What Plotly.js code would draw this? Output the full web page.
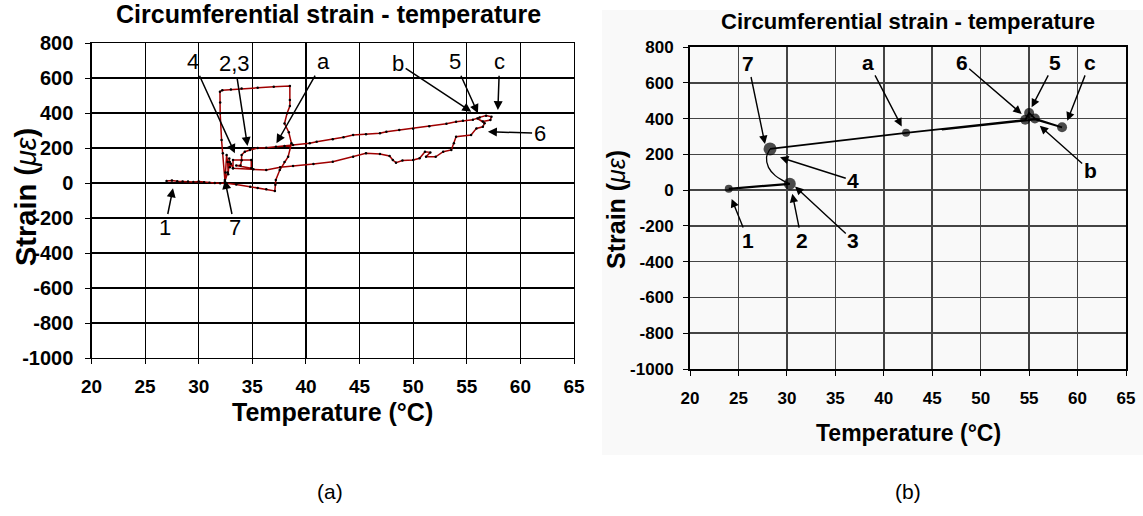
<!DOCTYPE html>
<html>
<head>
<meta charset="utf-8">
<script src="https://cdn.plot.ly/plotly-3.0.1.min.js"></script>
<style>html,body{margin:0;padding:0;background:#fff;}#chart{width:1143px;height:516px;}</style>
</head>
<body>
<div id="chart"></div>
<script>
// ---------- DATA: panel (a) measured curve ----------
const tempA = [27.0,27.5,28.0,28.5,29.0,29.5,30.0,30.5,31.0,31.5,32.0,32.6,33.5,34.8,35.5,36.3,37.1,
  37.15,37.19,37.56,38.0,38.34,38.65,38.4,38.0,38.24,38.5,38.5,38.5,
  37.0,35.5,34.0,33.0,32.2,31.98,32.0,32.0,32.13,32.25,32.44,
  32.5,32.6,32.7,32.75,32.85,32.9,33.0,33.2,33.2,34.9,34.9,33.5,33.9,34.0,34.0,34.3,34.77,
  35.5,36.3,37.2,38.0,38.8,40.35,41.0,42.5,43.5,44.4,45.6,46.9,47.5,48.7,50.0,51.5,53.1,54.0,54.64,55.57,56.2,56.8,57.3,57.2,56.5,56.0,
  56.66,56.5,55.9,55.4,54.0,53.8,53.56,52.8,52.1,51.2,51.6,51.1,50.6,50.0,49.0,48.4,48.1,47.8,46.9,45.6,44.4,42.5,40.7,38.8,37.6,36.3,35.1,33.2,32.9,32.7,32.44];
const strainA = [12,14,10,8,9,6,8,4,2,0,-2,-2,-8,-21,-28,-36,-45,
  -10,17,74,120,150,227,290,340,398,440,474,554,
  550,545,540,535,530,522,460,398,246,170,17,
  60,160,120,50,140,90,110,84,131,131,84,100,100,130,160,179,189,
  200,202,207,212,217,227,236,250,262,274,278,284,293,303,310,325,338,350,356,362,375,385,378,360,352,368,
  342,321,312,274,264,227,189,179,150,150,175,179,141,131,128,116,131,154,166,170,150,122,109,97,90,74,78,84,120,60,8];

// ---------- DATA: panel (b) model curve ----------
const tempB_low = [24.0, 30.3];
const strainB_low = [7, 35];
const tempB_curve = [30.3, 29.6, 28.8, 28.1, 27.9, 28.26];
const strainB_curve = [35, 53, 81, 127, 183, 230];
const tempB_up = [28.26, 42.3, 54.6, 55.0, 55.6, 58.4, 55.6, 54.6, 46.0];
const strainB_up = [230, 320, 393, 431, 400, 351, 396, 389, 338];
const tempB_pts = [24.0, 30.3, 28.26, 42.3, 55.0, 54.6, 55.6, 58.4];
const strainB_pts = [7, 35, 230, 320, 431, 393, 400, 351];

// ---------- DATA: labels ----------
const labelsA = ['1','7','4','2,3','a','b','5','c','6'];
const tipTA = [27.6,32.44,33.37,34.55,37.25,55.42,56.04,57.9,56.97];
const tipSA = [-30,17,170,211,227,407,398,417,293];
const txtTA = [26.85,33.37,29.48,33.37,41.6,48.6,53.87,58.06,61.79];
const txtSA = [-257,-257,693,684,693,684,693,693,284];

const labelsB = ['7','1','2','3','4','a','6','5','c','b'];
const tipTB = [27.74,24.3,30.56,30.84,29.29,41.85,54.23,55.26,58.94,56.1];
const tipSB = [258,-49,-21,20,183,355,426,463,388,360];
const txtTB = [26.02,26.02,31.53,36.85,36.85,38.4,48.04,57.67,61.3,61.3];
const txtSB = [705,-282,-282,-282,53,714,714,714,714,109];

const xTicks = [20,25,30,35,40,45,50,55,60,65];
const yTicks = [-1000,-800,-600,-400,-200,0,200,400,600,800];
const yTickText = ['-1000','-800','-600','-400','-200','0','200','400','600','800'];
const titleText = 'Circumferential strain - temperature';
const xTitle = 'Temperature (°C)';
const yTitle = 'Strain (<span style="font-weight:normal"><i>με</i></span>)';

// ---------- layout helpers ----------
const W = 1143, H = 516;
const PX = x => x / W, PY = y => 1 - y / H;
const FONT = 'Liberation Sans, Arial, sans-serif';
const FONTN = 'Liberation Sans Narrow, Arial Narrow, Liberation Sans, sans-serif';

const traces = [
  {x: tempA, y: strainA, xaxis:'x', yaxis:'y', mode:'lines+markers', type:'scatter',
   line:{color:'#a00000', width:1.5}, marker:{color:'#000', size:2.5}, hoverinfo:'skip'},
  {x: tempB_low, y: strainB_low, xaxis:'x2', yaxis:'y2', mode:'lines', type:'scatter',
   line:{color:'#000', width:2.2}, hoverinfo:'skip'},
  {x: tempB_curve, y: strainB_curve, xaxis:'x2', yaxis:'y2', mode:'lines', type:'scatter',
   line:{color:'#000', width:1.3, shape:'spline'}, hoverinfo:'skip'},
  {x: tempB_up, y: strainB_up, xaxis:'x2', yaxis:'y2', mode:'lines', type:'scatter',
   line:{color:'#000', width:1.8}, hoverinfo:'skip'},
  {x: tempB_pts, y: strainB_pts, xaxis:'x2', yaxis:'y2', mode:'markers', type:'scatter',
   marker:{color:'#000', size:[8,12,13,8,10,10,10,10], line:{width:0}}, hoverinfo:'skip'}
];

function axisX(domain, fam, big, gridc, gridw, lw, standoff) {
  return {domain: domain, range:[20,65], tickvals: xTicks, showgrid:true, gridcolor:gridc, gridwidth:gridw,
    zeroline:false, showline:true, linecolor:'#000', linewidth:lw, mirror:true, ticks:'outside', ticklen:5,
    tickcolor:'#000', tickfont:{family:fam, size:big, color:'#000', weight:'bold'}, ticklabelstandoff:standoff, fixedrange:true};
}
function axisY(domain, fam, big, gridc, gridw, lw, standoff) {
  return {domain: domain, range:[-1000,800], tickvals: yTicks, ticktext: yTickText, showgrid:true, gridcolor:gridc, gridwidth:gridw,
    zeroline:false, showline:true, linecolor:'#000', linewidth:lw, mirror:true, ticks:'outside', ticklen:5,
    tickcolor:'#000', tickfont:{family:fam, size:big, color:'#000', weight:'bold'}, ticklabelstandoff:standoff, fixedrange:true};
}

const annotations = [];
// panel titles
annotations.push({xref:'paper', yref:'paper', x:PX(328), y:PY(14), text:titleText, showarrow:false,
  font:{family:FONT, size:25, color:'#000', weight:'bold'}, xanchor:'center', yanchor:'middle'});
annotations.push({xref:'paper', yref:'paper', x:PX(908), y:PY(22), text:titleText, showarrow:false,
  font:{family:FONT, size:22, color:'#000', weight:'bold'}, xanchor:'center', yanchor:'middle'});
// axis titles
annotations.push({xref:'paper', yref:'paper', x:PX(332), y:PY(412), text:xTitle, showarrow:false,
  font:{family:FONT, size:25, color:'#000', weight:'bold'}, xanchor:'center', yanchor:'middle'});
annotations.push({xref:'paper', yref:'paper', x:PX(908), y:PY(433), text:xTitle, showarrow:false,
  font:{family:FONT, size:23, color:'#000', weight:'bold'}, xanchor:'center', yanchor:'middle'});
annotations.push({xref:'paper', yref:'paper', x:PX(26), y:PY(197), text:yTitle, showarrow:false, textangle:-90,
  font:{family:FONT, size:29, color:'#000', weight:'bold'}, xanchor:'center', yanchor:'middle'});
annotations.push({xref:'paper', yref:'paper', x:PX(616), y:PY(210), text:yTitle, showarrow:false, textangle:-90,
  font:{family:FONT, size:25, color:'#000', weight:'bold'}, xanchor:'center', yanchor:'middle'});
// (a) (b)
annotations.push({xref:'paper', yref:'paper', x:PX(330), y:PY(491), text:'(a)', showarrow:false,
  font:{family:FONT, size:21, color:'#000'}, xanchor:'center', yanchor:'middle'});
annotations.push({xref:'paper', yref:'paper', x:PX(908), y:PY(491), text:'(b)', showarrow:false,
  font:{family:FONT, size:21, color:'#000'}, xanchor:'center', yanchor:'middle'});

labelsA.forEach((t, i) => annotations.push({xref:'x', yref:'y', axref:'x', ayref:'y',
  x: tipTA[i], y: tipSA[i], ax: txtTA[i], ay: txtSA[i], text: t, showarrow:true,
  arrowhead:2, arrowsize:1.2, arrowwidth:1.5, arrowcolor:'#000', standoff:0,
  font:{family:FONTN, size:22, color:'#000'}}));
labelsB.forEach((t, i) => annotations.push({xref:'x2', yref:'y2', axref:'x2', ayref:'y2',
  x: tipTB[i], y: tipSB[i], ax: txtTB[i], ay: txtSB[i], text: t, showarrow:true,
  arrowhead:2, arrowsize:1.2, arrowwidth:1.4, arrowcolor:'#000', standoff:0,
  font:{family:FONT, size:21, color:'#000', weight:'bold'}}));

const layout = {
  width: W, height: H, margin:{l:0, r:0, t:0, b:0}, showlegend:false,
  paper_bgcolor:'#fff', plot_bgcolor:'rgba(0,0,0,0)',
  xaxis: axisX([91.5/W, 574/W], FONTN, 19, '#000', 1.2, 1.2, 6),
  yaxis: axisY([1-358/H, 1-43/H], FONTN, 20, '#000', 1.2, 1.2, 8),
  xaxis2: Object.assign(axisX([690/W, 1126/W], FONT, 17, '#444', 1.5, 2, 8), {anchor:'y2'}),
  yaxis2: Object.assign(axisY([1-369/H, 1-47/H], FONT, 17, '#444', 1.5, 2, 6), {anchor:'x2'}),
  annotations: annotations,
  shapes: [{type:'rect', xref:'paper', yref:'paper', x0:PX(602), x1:1, y0:PY(455), y1:PY(10),
    fillcolor:'#f9f9f9', line:{width:0}, layer:'below'}]
};
layout.xaxis.anchor = 'y';
layout.yaxis.anchor = 'x';

Plotly.newPlot('chart', traces, layout, {staticPlot:true, displayModeBar:false});
</script>
</body>
</html>
